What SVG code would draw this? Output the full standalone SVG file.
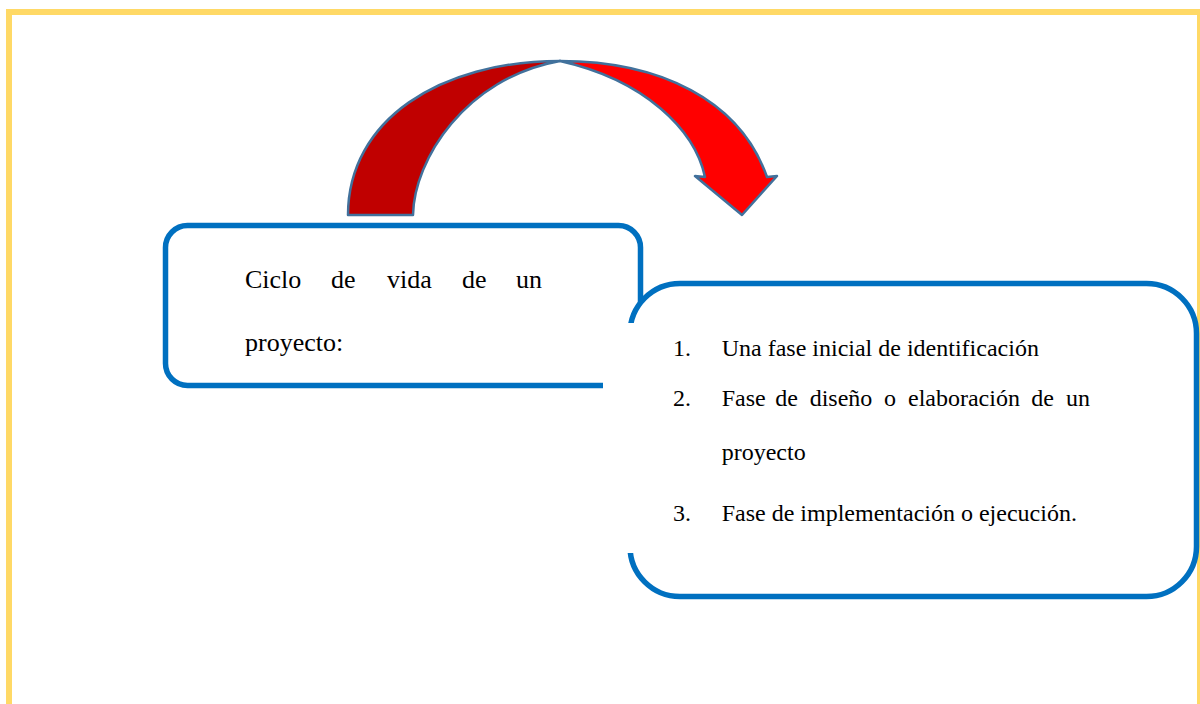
<svg xmlns="http://www.w3.org/2000/svg" width="1200" height="704" viewBox="0 0 1200 704">
  <style>
    .frame { fill: none; stroke: #FFD966; stroke-width: 6; }
    .box { fill: #FFFFFF; stroke: #0070C0; stroke-width: 5.5; }
    .arrow { stroke: #41719C; stroke-width: 2.5; stroke-linejoin: round; }
    .t1 { font-family: "Liberation Serif", "Times New Roman", serif; font-size: 26px; fill: #000000; }
    .t2 { font-family: "Liberation Serif", "Times New Roman", serif; font-size: 24px; fill: #000000; }
  </style>
  <rect x="0" y="0" width="1200" height="704" fill="#FFFFFF"/>
  <rect class="frame" x="9" y="12" width="1191" height="720"/>

  <g id="connectors">
    <path class="arrow" fill="#C00000" d="M348,215 C348,120 440,61 560,61 C465,78 414,160 413,215 Z"/>
    <path class="arrow" fill="#FF0000" d="M560,61 C660,61 740,100 767,177 L777,176 L742,215 L695,176 L705,177 C695,130 645,80 560,61 Z"/>
  </g>

  <g id="node-ciclo">
    <rect class="box" x="165.5" y="225.5" width="475" height="160" rx="22" ry="22"/>
    <text class="t1" y="288">
      <tspan x="245">Ciclo</tspan><tspan x="331">de</tspan><tspan x="387">vida</tspan><tspan x="462">de</tspan><tspan x="516">un</tspan>
    </text>
    <text class="t1" x="245" y="351">proyecto:</text>
  </g>

  <g id="node-fases">
    <rect class="box" x="630" y="283.5" width="566.5" height="313" rx="50" ry="50"/>
    <rect x="603" y="323" width="33" height="230" fill="#FFFFFF"/>
    <text class="t2" x="673" y="356">1.</text>
    <text class="t2" x="721.7" y="356">Una fase inicial de identificación</text>
    <text class="t2" x="673" y="406">2.</text>
    <text class="t2" y="406">
      <tspan x="721.7">Fase</tspan><tspan x="775.3">de</tspan><tspan x="809.7">diseño</tspan><tspan x="884">o</tspan><tspan x="908">elaboración</tspan><tspan x="1031.3">de</tspan><tspan x="1066">un</tspan>
    </text>
    <text class="t2" x="721.7" y="460">proyecto</text>
    <text class="t2" x="673" y="521">3.</text>
    <text class="t2" x="721.7" y="521">Fase de implementación o ejecución.</text>
  </g>
</svg>
